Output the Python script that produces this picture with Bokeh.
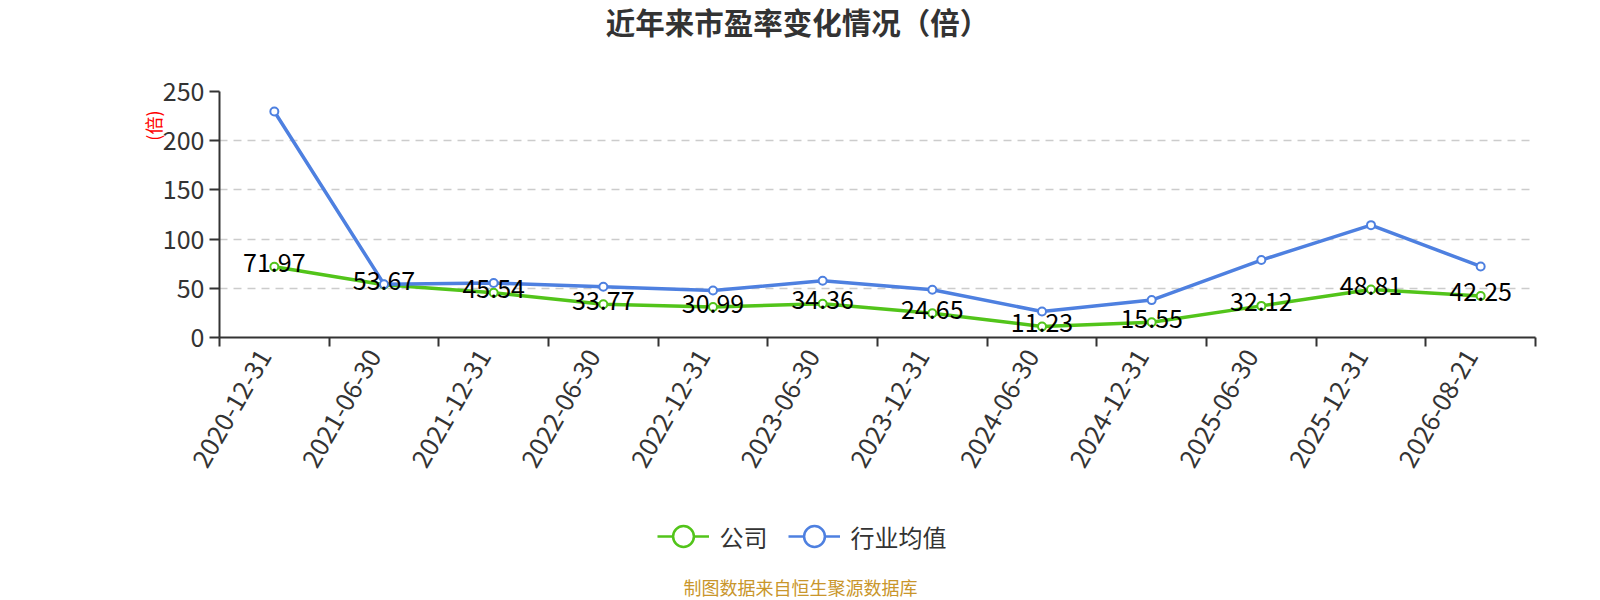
import math
from bokeh.plotting import figure
from bokeh.layouts import column
from bokeh.models import (ColumnDataSource, Range1d, FixedTicker, Label, Legend,
                          LegendItem, CustomJSTickFormatter, Title)
from bokeh.core.properties import value
from bokeh.embed import file_html
from bokeh.resources import INLINE

# ---- data ----
dates = ["2020-12-31", "2021-06-30", "2021-12-31", "2022-06-30", "2022-12-31", "2023-06-30",
         "2023-12-31", "2024-06-30", "2024-12-31", "2025-06-30", "2025-12-31", "2026-08-21"]
company = [71.97, 53.67, 45.54, 33.77, 30.99, 34.36, 24.65, 11.23, 15.55, 32.12, 48.81, 42.25]
industry = [229.7, 54.2, 55.3, 51.5, 47.8, 57.6, 48.5, 26.4, 38.0, 78.7, 114.2, 72.2]
y_ticks = [0, 50, 100, 150, 200, 250]
company_name = "公司"
industry_name = "行业均值"
title_text = "近年来市盈率变化情况（倍）"
unit_text = "(倍)"
source_text = "制图数据来自恒生聚源数据库"

FONT = "Noto Sans CJK SC"
GREEN = "#52c41a"
BLUE = "#4e80e0"
W = 1584
BL, BR = 219, 49          # left / right borders shared by all strips
FW = W - BL - BR          # frame width in px

n = len(dates)
xs = [i + 0.5 for i in range(n)]
src = ColumnDataSource(dict(x=xs, company=company, industry=industry,
                            clabel=[f"{v:.2f}" for v in company]))


def strip(h):
    f = figure(width=W, height=h, output_backend="svg", toolbar_location=None,
               x_range=Range1d(0, FW), y_range=Range1d(0, h),
               x_axis_location=None, y_axis_location=None,
               min_border_left=BL, min_border_right=BR,
               min_border_top=0, min_border_bottom=0)
    f.outline_line_color = None
    f.grid.visible = False
    return f


# ---------- top strip: title ----------
top = strip(60)
top.add_layout(Label(x=797 - BL, y=40, text=title_text, text_align="center",
                     text_baseline="middle", text_font=FONT, text_font_size="29.5px",
                     text_font_style="bold", text_color="#333333"))

# ---------- main chart ----------
p = figure(width=W, height=440, output_backend="svg", toolbar_location=None,
           x_range=Range1d(0, n), y_range=Range1d(0, 250),
           min_border_left=BL, min_border_right=BR, min_border_top=31, min_border_bottom=163)
p.outline_line_color = None

p.xgrid.visible = False
p.ygrid.ticker = FixedTicker(ticks=y_ticks)
p.ygrid.grid_line_color = "#cccccc"
p.ygrid.grid_line_dash = "8 6"
p.ygrid.grid_line_width = 1.5

ya = p.yaxis[0]
ya.ticker = FixedTicker(ticks=y_ticks)
ya.axis_line_color = "#333333"
ya.axis_line_width = 2
ya.major_tick_line_color = "#333333"
ya.major_tick_line_width = 2
ya.major_tick_out = 10
ya.major_tick_in = 0
ya.minor_tick_line_color = None
ya.major_label_text_font = FONT
ya.major_label_text_font_size = "25px"
ya.major_label_text_color = "#333333"
ya.major_label_standoff = 5

xa = p.xaxis[0]
label_pos = [x - 0.09 for x in xs]
xa.ticker = FixedTicker(ticks=label_pos, minor_ticks=list(range(n + 1)))
xa.formatter = CustomJSTickFormatter(args=dict(labels=dates),
                                     code="return labels[Math.round(tick)] || '';")
xa.axis_line_color = "#333333"
xa.axis_line_width = 2
xa.major_tick_line_color = None
xa.major_tick_out = 0
xa.major_tick_in = 0
xa.minor_tick_line_color = "#333333"
xa.minor_tick_line_width = 2
xa.minor_tick_out = 9
xa.minor_tick_in = 0
xa.major_label_orientation = math.radians(60)
xa.major_label_text_font = FONT
xa.major_label_text_font_size = "25.5px"
xa.major_label_text_color = "#333333"
xa.major_label_standoff = 5

p.add_layout(Title(text=unit_text, align="right", offset=19, text_font=FONT,
                   text_font_size="18px", text_font_style="normal",
                   text_color="#ff0000", standoff=-12), "left")

p.line("x", "company", source=src, line_color=GREEN, line_width=3.5)
p.scatter("x", "company", source=src, size=8, fill_color="white",
          line_color=GREEN, line_width=2)
p.line("x", "industry", source=src, line_color=BLUE, line_width=3.5)
p.scatter("x", "industry", source=src, size=8, fill_color="white",
          line_color=BLUE, line_width=2)

p.text("x", "company", text="clabel", source=src, text_align="center",
       text_baseline="middle", y_offset=-4, text_font=value(FONT),
       text_font_size="25px", text_color="#000000")

# ---------- bottom strip: legend + source ----------
bot = strip(100)
gl = bot.line([-20, -10], [-20, -20], line_color=GREEN, line_width=2.5)
gs = bot.scatter([-15], [-20], size=8, fill_color="white", line_color=GREEN, line_width=2.5)
bl = bot.line([-20, -10], [-20, -20], line_color=BLUE, line_width=2.5)
bs = bot.scatter([-15], [-20], size=8, fill_color="white", line_color=BLUE, line_width=2.5)
legend = Legend(items=[LegendItem(label=company_name, renderers=[gl, gs]),
                       LegendItem(label=industry_name, renderers=[bl, bs])],
                location=(656.5 - BL, 34), orientation="horizontal",
                glyph_width=52, glyph_height=60, label_height=22,
                label_text_font=FONT, label_text_font_size="24px",
                label_text_color="#333333", label_standoff=11, spacing=20,
                padding=0, margin=0, border_line_color=None,
                background_fill_alpha=0)
bot.add_layout(legend)
bot.add_layout(Label(x=800 - BL, y=13.5, text=source_text, text_align="center",
                     text_baseline="middle", text_font=FONT, text_font_size="18px",
                     text_color="#c9962b"))

layout = column(top, p, bot, spacing=0)
open("out.html", "w").write(file_html(layout, INLINE))
